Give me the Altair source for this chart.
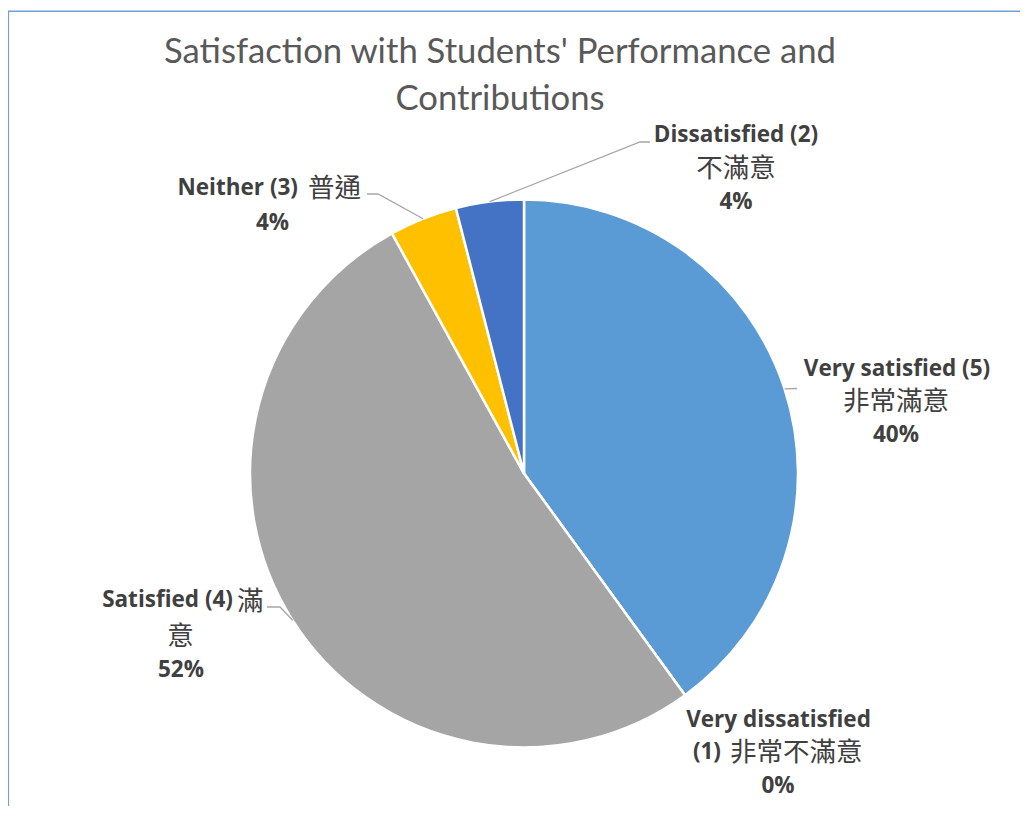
import math
import altair as alt
import pandas as pd

# ---------------- data ----------------
categories = ["Very satisfied (5)", "Very dissatisfied (1)", "Satisfied (4)",
              "Neither (3)", "Dissatisfied (2)"]
names_zh = ["非常滿意", "非常不滿意", "滿意", "普通", "不滿意"]
counts = [10, 0, 13, 1, 1]
percents = ["40%", "0%", "52%", "4%", "4%"]
colors = ["#5B9BD5", "#ED7D31", "#A5A5A5", "#FFC000", "#4472C4"]
title_lines = ["Satisfaction with Students' Performance and", "Contributions"]

# ---------------- layout (page coordinates) ----------------
M = 8  # page margin
W, H = 1012, 798
CX, CY, R = 524 - M, 473.5 - M, 274

pie_df = pd.DataFrame({"category": categories, "count": counts,
                       "order": list(range(len(categories)))})

# label segments: (text, x, baseline y, weight, align)
seg = [
    (categories[0], 897, 376, "bold", "center"),
    (names_zh[0], 896, 410, "normal", "center"),
    (percents[0], 896, 442, "bold", "center"),
    (categories[4], 736, 142, "bold", "center"),
    (names_zh[4], 736, 176.5, "normal", "center"),
    (percents[4], 736, 209, "bold", "center"),
    (categories[3], 298, 195, "bold", "right"),
    (names_zh[3], 308, 197, "normal", "left"),
    (percents[3], 272.5, 230, "bold", "center"),
    (categories[2], 233, 607, "bold", "right"),
    (names_zh[2][0], 237, 609.5, "normal", "left"),
    (names_zh[2][1], 180.5, 645, "normal", "center"),
    (percents[2], 181, 677, "bold", "center"),
    (categories[1][:17], 778.5, 727, "bold", "center"),
    (categories[1][18:], 721, 759, "bold", "right"),
    (names_zh[1], 730, 761, "normal", "left"),
    (percents[1], 778, 793, "bold", "center"),
]
lab_df = pd.DataFrame([{"text": t, "x": x - M, "y": y - M, "w": w, "a": a}
                       for t, x, y, w, a in seg])

# leader lines: start point computed from the slice mid-angle, then elbows
total = sum(counts)
cum = 0
mid = {}
for c, v in zip(categories, counts):
    mid[c] = (cum + v / 2) / total
    cum += v

def edge(cat):
    a = 2 * math.pi * mid[cat]
    return CX + R * math.sin(a), CY - R * math.cos(a)

elbows = {
    categories[4]: [(640, 142), (650, 142)],
    categories[3]: [(378, 194), (367, 194)],
    categories[0]: [(797, 388.5)],
    categories[2]: [(280, 607), (267, 607)],
}
rows = []
for cat, pts in elbows.items():
    sx, sy = edge(cat)
    rows.append({"cat": cat, "seq": 0, "x": sx, "y": sy})
    for i, (px, py) in enumerate(pts, start=1):
        rows.append({"cat": cat, "seq": i, "x": px - M, "y": py - M})
lead_df = pd.DataFrame(rows)

title_df = pd.DataFrame({"text": title_lines, "x": [500 - M, 500 - M],
                         "y": [63 - M, 110 - M]})

# ---------------- chart ----------------
pie = alt.Chart(pie_df).mark_arc(outerRadius=R, stroke="white", strokeWidth=2.5).encode(
    theta=alt.Theta("count:Q", stack=True),
    color=alt.Color("category:N", scale=alt.Scale(domain=categories, range=colors), legend=None),
    order=alt.Order("order:Q"),
    x=alt.value(CX), y=alt.value(CY),
)

leaders = alt.Chart(lead_df).mark_line(color="#A6A6A6", strokeWidth=1.3).encode(
    x=alt.X("x:Q", scale=None, axis=None),
    y=alt.Y("y:Q", scale=None, axis=None),
    detail="cat:N",
    order="seq:Q",
)

text_layers = []
for w in ["bold", "normal"]:
    for a in ["center", "left", "right"]:
        if w == "bold":
            mk = dict(font="Open Sans", fontSize=22.5, fontWeight="bold")
        else:
            mk = dict(font="Noto Sans CJK TC", fontSize=26.5, fontWeight="normal")
        text_layers.append(
            alt.Chart(lab_df).transform_filter(
                (alt.datum.w == w) & (alt.datum.a == a)
            ).mark_text(align=a, baseline="alphabetic", color="#404040", **mk).encode(
                x=alt.X("x:Q", scale=None, axis=None),
                y=alt.Y("y:Q", scale=None, axis=None),
                text="text:N",
            )
        )

title = alt.Chart(title_df).mark_text(
    align="center", baseline="alphabetic", font="Lato", fontSize=34.7,
    fontWeight="normal", color="#595959"
).encode(
    x=alt.X("x:Q", scale=None, axis=None),
    y=alt.Y("y:Q", scale=None, axis=None),
    text="text:N",
)

one = pd.DataFrame({"k": [0]})
border_left = alt.Chart(one).mark_rule(color="#6FA0D8", strokeWidth=1.6).encode(
    x=alt.value(0.3), y=alt.value(3.2), y2=alt.value(H))
border_top = alt.Chart(one).mark_rule(color="#6FA0D8", strokeWidth=1.6).encode(
    x=alt.value(0), x2=alt.value(W), y=alt.value(3.2))

chart = alt.layer(border_left, border_top, pie, leaders, *text_layers, title).properties(
    width=W, height=H, autosize=alt.AutoSizeParams(type="none"), padding=0,
    background="white",
).configure_view(stroke=None)

chart.save("out.html", embed_options={"renderer": "svg", "actions": False})
